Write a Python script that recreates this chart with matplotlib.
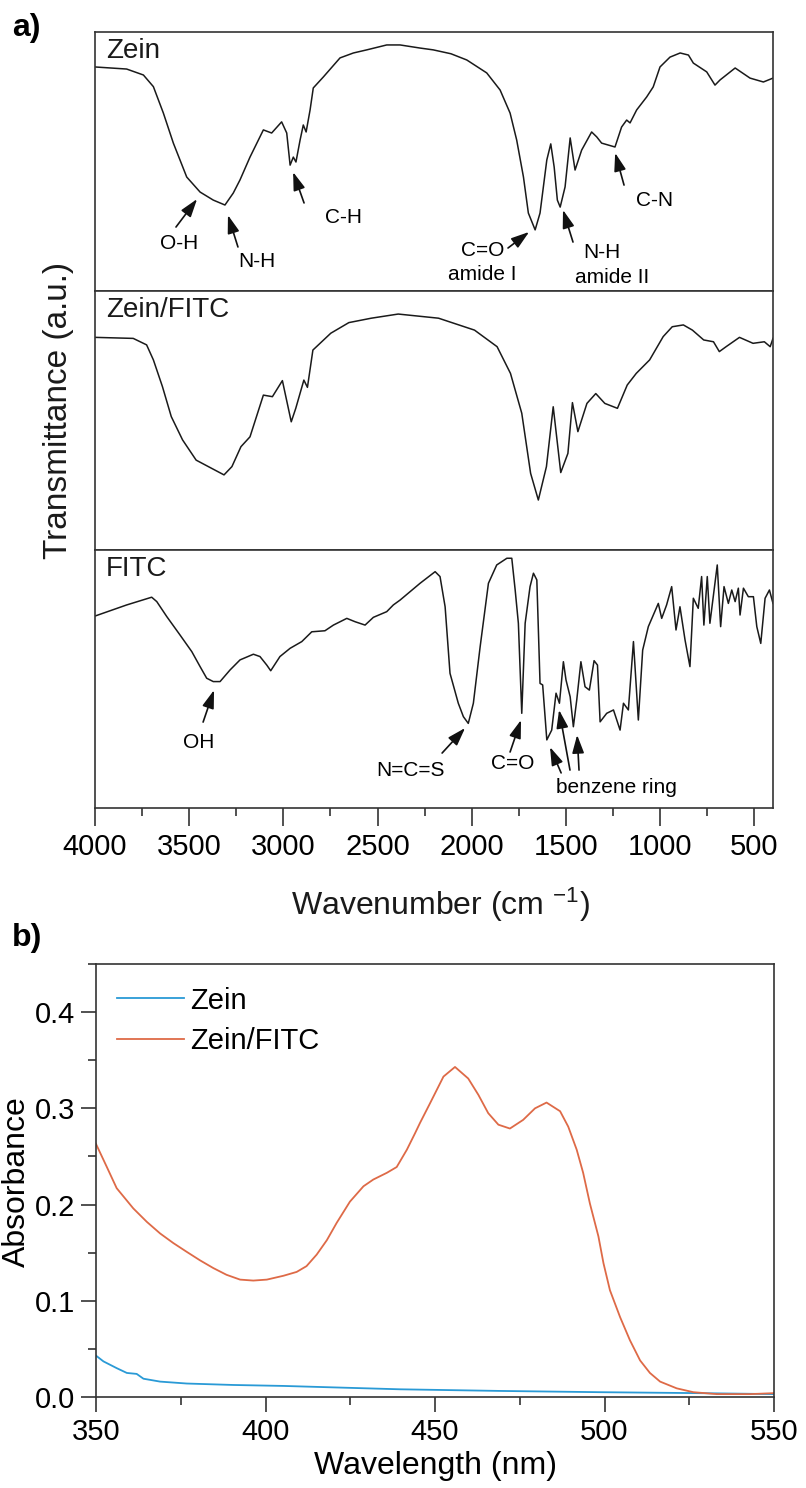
import matplotlib.pyplot as plt
from matplotlib.ticker import MultipleLocator

plt.rcParams['font.family'] = ['Liberation Sans', 'DejaVu Sans']
plt.rcParams['mathtext.fontset'] = 'custom'
plt.rcParams['mathtext.rm'] = 'Liberation Sans'
plt.rcParams['mathtext.it'] = 'Liberation Sans'

# ---- FTIR data (panel a), transmittance in a.u. per sub-panel (0-100) ----
zein_wn = [4000, 3832, 3743, 3690, 3637, 3584, 3513, 3442, 3372, 3310,
           3266, 3230, 3177, 3106, 3062, 3009, 2982, 2964, 2947, 2933,
           2911, 2894, 2879, 2858, 2841, 2788, 2699, 2628, 2557, 2451,
           2380, 2274, 2204, 2110, 2026, 1920, 1849, 1796, 1761, 1725, 1699,
           1663, 1637, 1601, 1580, 1562, 1545, 1530, 1504, 1477, 1451,
           1416, 1363, 1336, 1310, 1239, 1204, 1177, 1159, 1124, 1071,
           1036, 1000, 947, 893, 849, 823, 752, 708, 681, 601,
           522, 451, 400]
zein_t = [86.5, 85.7, 83.4, 78.9, 68.7, 57.1, 44.0, 38.2, 35.1, 33.2,
          37.8, 42.9, 51.7, 62.2, 61.0, 65.3, 61.0, 48.6, 51.7, 49.8,
          58.3, 64.1, 61.4, 69.9, 78.4, 82.6, 90.0, 91.9, 93.1, 95.0,
          95.0, 93.8, 93.1, 91.6, 89.2, 84.2, 77.6, 68.7, 58.3, 44.0, 30.1,
          23.6, 30.1, 50.6, 56.8, 47.9, 35.1, 32.4, 40.2, 59.1, 46.7,
          54.4, 61.4, 59.5, 57.1, 55.6, 63.3, 66.0, 64.9, 69.9, 74.9,
          78.8, 86.5, 90.3, 91.9, 91.1, 88.0, 84.6, 79.5, 81.5, 86.1,
          82.2, 80.7, 82.2]

zf_wn = [4000, 3797, 3726, 3690, 3642, 3595, 3535, 3463, 3380, 3315,
         3273, 3225, 3177, 3106, 3058, 3005, 2958, 2934, 2891, 2872,
         2843, 2748, 2652, 2533, 2390, 2176, 1985, 1865, 1794, 1734,
         1687, 1646, 1603, 1567, 1527, 1489, 1465, 1436, 1388, 1341,
         1293, 1226, 1174, 1126, 1055, 983, 935, 876, 828, 768,
         716, 685, 649, 578, 506, 446, 415, 400]
zf_t = [82.1, 81.7, 79.2, 73.4, 63.1, 51.5, 42.5, 34.7, 31.5, 29.0,
        32.2, 39.9, 43.7, 59.8, 59.2, 65.4, 49.5, 54.7, 65.6, 62.8,
        77.2, 83.7, 87.8, 89.5, 91.1, 89.5, 84.9, 78.5, 68.2, 52.8,
        29.6, 19.3, 32.2, 55.3, 29.9, 37.3, 56.9, 45.7, 56.6, 60.4,
        56.6, 54.7, 63.7, 68.2, 73.4, 82.4, 86.2, 86.9, 84.9, 81.1,
        80.4, 76.6, 78.5, 82.1, 79.8, 80.4, 78.5, 81.7]

fitc_wn = [4000, 3832, 3699, 3672, 3619, 3549, 3486, 3442, 3407, 3372,
           3336, 3283, 3230, 3159, 3124, 3088, 3067, 3018, 2964, 2902,
           2849, 2779, 2734, 2663, 2619, 2566, 2522, 2451, 2416, 2380,
           2274, 2194, 2168, 2141, 2115, 2071, 2044, 2018, 1991, 1955,
           1911, 1867, 1813, 1787, 1769, 1752, 1734, 1716, 1690, 1672,
           1654, 1637, 1623, 1601, 1575, 1552, 1534, 1513, 1499, 1477,
           1460, 1442, 1420, 1398, 1375, 1350, 1332, 1318, 1283, 1247,
           1212, 1194, 1168, 1141, 1115, 1092, 1062, 1009, 991, 965,
           938, 915, 894, 867, 841, 823, 797, 779, 767, 749,
           735, 696, 678, 660, 637, 619, 601, 584, 575, 557,
           531, 504, 486, 465, 442, 419, 400]
fitc_t = [74.4, 78.7, 81.7, 80.0, 74.2, 67.1, 60.6, 54.8, 50.3, 49.0,
          49.0, 53.5, 57.4, 59.6, 58.7, 55.4, 53.2, 58.7, 61.9, 64.5,
          68.3, 68.7, 70.9, 73.5, 72.2, 70.9, 73.9, 76.1, 78.7, 80.6,
          87.1, 91.6, 89.7, 78.0, 52.2, 40.6, 35.4, 32.8, 40.6, 62.5,
          87.1, 94.2, 96.8, 96.8, 84.5, 71.6, 36.7, 71.6, 85.8, 91.0,
          88.4, 48.3, 47.7, 26.4, 30.2, 44.5, 40.6, 56.7, 49.6, 43.1,
          31.5, 41.9, 56.7, 47.0, 45.7, 57.1, 55.4, 33.4, 36.7, 38.0,
          30.2, 40.6, 38.0, 64.5, 34.1, 61.2, 70.3, 79.3, 73.5, 78.7,
          85.8, 69.0, 78.0, 65.1, 54.8, 81.3, 77.4, 89.7, 70.9, 89.7,
          71.6, 94.2, 70.3, 85.8, 79.3, 84.5, 80.0, 85.2, 74.8, 85.2,
          81.9, 81.9, 70.3, 63.8, 81.3, 84.5, 79.3]

# ---- UV-vis data (panel b) ----
uv_zf_nm = [350, 353.2, 356.1, 361, 365, 368.9, 372.8, 376.7, 380.7, 384.6,
            388.5, 392.5, 396.4, 400.4, 405.3, 409.2, 412.1, 415.1, 418.1, 421,
            424.9, 428.9, 431.8, 435.8, 438.7, 441.7, 444.1, 445.6, 448.5, 452.5,
            455.9, 459.8, 462.8, 465.7, 468.7, 472.1, 476, 479.5, 482.9, 486.9,
            489.3, 491.8, 493.7, 495.7, 498.2, 499.7, 501.6, 504.6, 507.5, 510.5,
            513.4, 516.4, 521.3, 526.2, 533.1, 542.9, 550]
uv_zf_abs = [0.263, 0.239, 0.217, 0.196, 0.182, 0.170, 0.160, 0.151, 0.142, 0.134,
             0.127, 0.122, 0.121, 0.122, 0.126, 0.130, 0.136, 0.148, 0.163, 0.181,
             0.203, 0.219, 0.226, 0.233, 0.239, 0.257, 0.274, 0.285, 0.305, 0.333,
             0.343, 0.331, 0.314, 0.295, 0.283, 0.279, 0.288, 0.300, 0.306, 0.297,
             0.281, 0.257, 0.233, 0.201, 0.167, 0.139, 0.111, 0.083, 0.059, 0.038,
             0.025, 0.016, 0.009, 0.005, 0.003, 0.003, 0.004]

uv_zein_nm = [350, 352.2, 356.1, 359.1, 362, 364, 368.9, 376.8, 390.5, 405.3,
              420, 439.7, 469.2, 498.7, 528.2, 550]
uv_zein_abs = [0.043, 0.037, 0.030, 0.025, 0.024, 0.019, 0.016, 0.014, 0.0125, 0.0115,
               0.010, 0.008, 0.0063, 0.005, 0.004, 0.003]

W, H = 806, 1488


def box(l, t, r, b):
    return [l / W, 1 - b / H, (r - l) / W, (b - t) / H]


spine_col = '#333333'
fig = plt.figure(figsize=(W / 100, H / 100), dpi=100)

ax1 = fig.add_axes(box(95, 32, 773, 291))
ax2 = fig.add_axes(box(95, 291, 773, 550))
ax3 = fig.add_axes(box(95, 550, 773, 808))

for ax, wn, t, name in [(ax1, zein_wn, zein_t, 'Zein'),
                        (ax2, zf_wn, zf_t, 'Zein/FITC'),
                        (ax3, fitc_wn, fitc_t, 'FITC')]:
    ax.plot(wn, t, color='#1a1a1a', lw=1.1)
    ax.set_xlim(4000, 400)
    ax.set_ylim(0, 100)
    for s in ax.spines.values():
        s.set_color(spine_col)
        s.set_linewidth(1.2)
    ax.tick_params(left=False, labelleft=False, bottom=False, labelbottom=False)
    ax.text(0.016, 0.925, name, transform=ax.transAxes, fontsize=20,
            ha='left', va='center', color='#1a1a1a')

ax3.xaxis.set_major_locator(MultipleLocator(500))
ax3.xaxis.set_minor_locator(MultipleLocator(250))
ax3.tick_params(axis='x', which='both', bottom=True, labelbottom=True,
                direction='out', color=spine_col, width=1.2)
ax3.tick_params(axis='x', which='major', length=13, labelsize=21, pad=5)
ax3.tick_params(axis='x', which='minor', length=6)

arrow = dict(arrowstyle='-|>,head_length=0.55,head_width=0.18', color='#111111',
             lw=1.2, shrinkA=0, shrinkB=0, mutation_scale=20)
nfs = 15

# Zein annotations
ax1.annotate('', xy=(3458, 35.5), xytext=(3570, 24.7), arrowprops=arrow)
ax1.text(3554, 18.5, 'O-H', fontsize=nfs, ha='center', va='center')
ax1.annotate('', xy=(3294, 29.3), xytext=(3241, 17.0), arrowprops=arrow)
ax1.text(3140, 11.2, 'N-H', fontsize=nfs, ha='center', va='center')
ax1.annotate('', xy=(2948, 45.9), xytext=(2890, 34.0), arrowprops=arrow)
ax1.text(2683, 28.2, 'C-H', fontsize=nfs, ha='center', va='center')
ax1.annotate('', xy=(1695, 22.8), xytext=(1807, 16.6), arrowprops=arrow)
ax1.text(1940, 15.8, 'C=O', fontsize=nfs, ha='center', va='center')
ax1.text(1945, 6.2, 'amide I', fontsize=nfs, ha='center', va='center')
ax1.annotate('', xy=(1515, 31.3), xytext=(1462, 18.9), arrowprops=arrow)
ax1.text(1307, 14.7, 'N-H', fontsize=nfs, ha='center', va='center')
ax1.text(1254, 5.4, 'amide II', fontsize=nfs, ha='center', va='center')
ax1.annotate('', xy=(1238, 53.3), xytext=(1191, 40.9), arrowprops=arrow)
ax1.text(1031, 35.1, 'C-N', fontsize=nfs, ha='center', va='center')

# FITC annotations
ax3.annotate('', xy=(3368, 45.7), xytext=(3426, 33.3), arrowprops=arrow)
ax3.text(3448, 25.2, 'OH', fontsize=nfs, ha='center', va='center')
ax3.annotate('', xy=(2035, 31.0), xytext=(2157, 21.3), arrowprops=arrow)
ax3.text(2327, 14.7, 'N=C=S', fontsize=nfs, ha='center', va='center')
ax3.annotate('', xy=(1738, 34.1), xytext=(1796, 21.7), arrowprops=arrow)
ax3.text(1780, 17.4, 'C=O', fontsize=nfs, ha='center', va='center')
ax3.annotate('', xy=(1584, 23.6), xytext=(1525, 13.6), arrowprops=arrow)
ax3.annotate('', xy=(1536, 38.0), xytext=(1478, 14.7), arrowprops=arrow)
ax3.annotate('', xy=(1440, 28.3), xytext=(1430, 14.7), arrowprops=arrow)
ax3.text(1233, 7.8, 'benzene ring', fontsize=nfs, ha='center', va='center')

fig.text(59 / W, 1 - 410 / H, 'Transmittance (a.u.)', rotation=90, fontsize=24,
         ha='center', va='center', color='#1a1a1a')
fig.text(440 / W, 1 - 905 / H, 'Wavenumber (cm $^{-1}$)', fontsize=23,
         ha='center', va='center', color='#1a1a1a')
fig.text(12 / W, 1 - 28 / H, 'a)', fontsize=23, fontweight='bold',
         ha='left', va='center')

# ---- panel b ----
axb = fig.add_axes(box(96, 964, 774, 1397))
axb.plot(uv_zein_nm, uv_zein_abs, color='#2a9ad6', lw=1.3, label='Zein')
axb.plot(uv_zf_nm, uv_zf_abs, color='#de6a47', lw=1.3, label='Zein/FITC')
axb.set_xlim(350, 550)
axb.set_ylim(0, 0.45)
axb.xaxis.set_major_locator(MultipleLocator(50))
axb.xaxis.set_minor_locator(MultipleLocator(25))
axb.yaxis.set_major_locator(MultipleLocator(0.1))
axb.yaxis.set_minor_locator(MultipleLocator(0.05))
for s in axb.spines.values():
    s.set_color(spine_col)
    s.set_linewidth(1.2)
axb.tick_params(which='both', direction='out', color=spine_col, width=1.2)
axb.tick_params(which='major', length=11, labelsize=21, pad=4)
axb.tick_params(which='minor', length=6)
axb.set_xlabel('Wavelength (nm)', fontsize=23, labelpad=4)
fig.text(2 / W, 1 - 1182 / H, 'Absorbance', rotation=90, fontsize=23,
         ha='left', va='center')
axb.legend(loc='upper left', bbox_to_anchor=(0.031, 0.948), frameon=False,
           fontsize=21, handlelength=2.3, handletextpad=0.2, labelspacing=0.42,
           borderaxespad=0, borderpad=0)
fig.text(12 / W, 1 - 938 / H, 'b)', fontsize=23, fontweight='bold',
         ha='left', va='center')

fig.savefig('out.png', dpi=100)
